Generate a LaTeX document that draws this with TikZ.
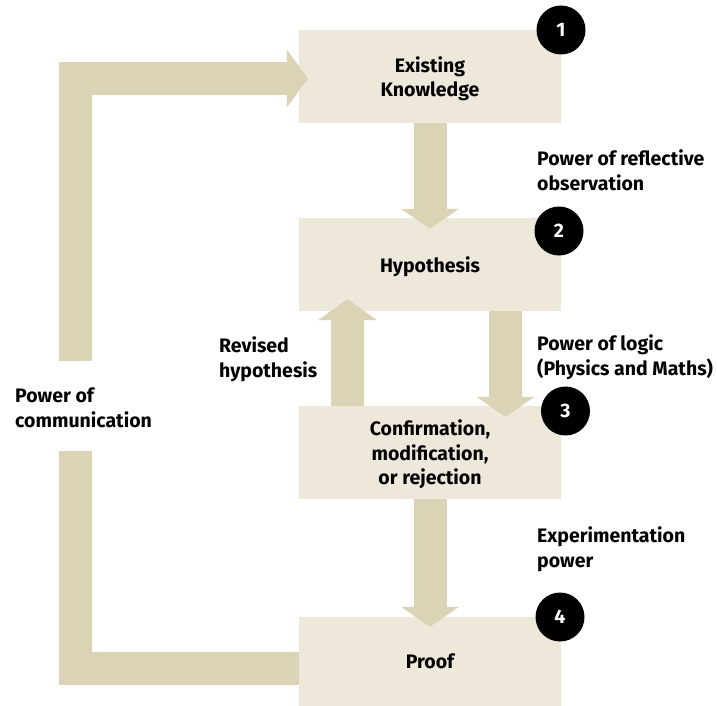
\documentclass[tikz,border=0pt]{standalone}
\usepackage{fontspec}
\setmainfont{Fira Sans}
\definecolor{boxfill}{RGB}{238,232,218}
\definecolor{bandfill}{RGB}{218,211,181}
\newcommand{\lbl}{\fontsize{19.5}{24.5}\selectfont\bfseries}
\begin{document}
\begin{tikzpicture}[x=1pt,y=-1pt,
  stage/.style={fill=boxfill, minimum width=262pt, minimum height=93pt,
    align=center, inner sep=0pt, text depth=0pt, font=\lbl},
  badge/.style={circle, fill=black, text=white, minimum size=49pt,
    inner sep=0pt, font=\lbl},
  shaft/.style={draw=bandfill, line width=33pt, line join=miter, line cap=butt},
  head/.style={fill=bandfill},
  note/.style={anchor=base west, align=left, inner sep=0pt, font=\lbl}]

\useasboundingbox (0,0) rectangle (717,706);

% stages
\node[stage] (k) at (430,76.5)  {Existing\\Knowledge};
\node[stage] (h) at (430,264.5) {Hypothesis};
\node[stage] (c) at (430,452.5) {Confirmation,\\modification,\\or rejection};
\node[stage, minimum height=89pt] (p) at (430,661.5) {Proof};

% knowledge -> hypothesis
\draw[shaft] (k.south) -- ([yshift=9pt]h.north);
\fill[head] ([shift={(-29pt,9pt)}]h.north) -- ([shift={(29pt,9pt)}]h.north)
  -- ([yshift=-11pt]h.north) -- cycle;

% hypothesis -> confirmation
\draw[shaft] ([xshift=75.5pt]h.south) -- ([shift={(75.5pt,9pt)}]c.north);
\fill[head] ([shift={(46.5pt,9pt)}]c.north) -- ([shift={(104.5pt,9pt)}]c.north)
  -- ([shift={(75.5pt,-11pt)}]c.north) -- cycle;

% confirmation -> hypothesis (revised)
\draw[shaft] ([xshift=-82.5pt]c.north) -- ([shift={(-82.5pt,-9pt)}]h.south);
\fill[head] ([shift={(-112pt,-9pt)}]h.south) -- ([shift={(-53pt,-9pt)}]h.south)
  -- ([shift={(-82.5pt,12pt)}]h.south) -- cycle;

% confirmation -> proof
\draw[shaft] (c.south) -- ([yshift=10pt]p.north);
\fill[head] ([shift={(-29pt,10pt)}]p.north) -- ([shift={(29pt,10pt)}]p.north)
  -- ([yshift=-10pt]p.north) -- cycle;

% communication loop
\coordinate (loopbot) at (75.5,451);
\coordinate (looptop) at (75.5,361);
\coordinate (kin) at ([shift={(-12pt,-2pt)}]k.west);
\draw[shaft] ([yshift=-7pt]p.west) -| (loopbot);
\draw[shaft] (looptop) |- (kin);
\fill[head] ([yshift=29pt]kin) -- ([xshift=21pt]kin) -- ([yshift=-29pt]kin) -- cycle;

% step badges
\node[badge] (b1) at (561,30)    {1};
\node[badge] (b2) at (559,231)   {2};
\node[badge] (b3) at (565.5,411) {3};
\node[badge] (b4) at (560,617)   {4};

% labels (anchored on the baseline of the last line)
\node[note] (l1) at (537,190)   {Power of reflective\\observation};
\node[note] (l2) at (537,375)   {Power of logic\\(Physics and Maths)};
\node[note] (l3) at (219,377)   {Revised\\hypothesis};
\node[note] (l4) at (15,427)    {Power of\\communication};
\node[note] (l5) at (537,567)   {Experimentation\\power};
\end{tikzpicture}
\end{document}
